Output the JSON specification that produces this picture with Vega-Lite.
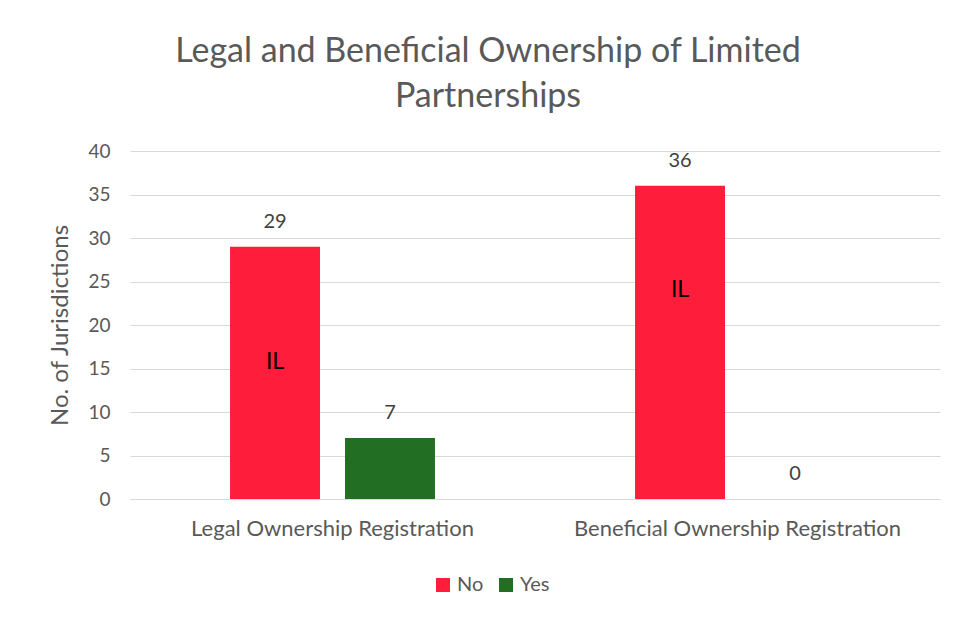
{
  "$schema": "https://vega.github.io/schema/vega-lite/v6.json",
  "width": 810,
  "height": 348,
  "autosize": {"type": "none"},
  "padding": {"left": 130, "top": 151, "right": 19, "bottom": 119},
  "background": "white",
  "config": {
    "font": "Lato",
    "view": {"stroke": null},
    "axis": {"labelFont": "Lato", "titleFont": "Lato", "labelColor": "#595959", "titleColor": "#595959"}
  },
  "title": {
    "text": ["Legal and Beneficial Ownership of Limited", "Partnerships"],
    "fontSize": 34,
    "fontWeight": "normal",
    "color": "#595959",
    "lineHeight": 45,
    "anchor": "middle",
    "dx": -47,
    "offset": 28
  },
  "datasets": {
    "counts": [
      {"group": "Legal Ownership Registration", "answer": "No", "count": 29},
      {"group": "Legal Ownership Registration", "answer": "Yes", "count": 7},
      {"group": "Beneficial Ownership Registration", "answer": "No", "count": 36},
      {"group": "Beneficial Ownership Registration", "answer": "Yes", "count": 0}
    ],
    "notes": [
      {"group": "Legal Ownership Registration", "answer": "No", "label": "IL", "value": 15.75},
      {"group": "Beneficial Ownership Registration", "answer": "No", "label": "IL", "value": 24}
    ]
  },
  "encoding": {
    "x": {
      "field": "group",
      "type": "nominal",
      "sort": ["Legal Ownership Registration", "Beneficial Ownership Registration"],
      "scale": {"paddingInner": 0.494, "paddingOuter": 0.247},
      "axis": {"title": null, "labelAngle": 0, "labelFontSize": 22, "labelLimit": 0, "labelPadding": 19, "ticks": false, "domainColor": "#d9d9d9", "labelColor": "#595959"}
    },
    "xOffset": {
      "field": "answer",
      "type": "nominal",
      "scale": {"domain": ["No", "Yes"], "paddingInner": 0.2174, "paddingOuter": 0}
    }
  },
  "layer": [
    {
      "data": {"name": "counts"},
      "mark": {"type": "bar"},
      "encoding": {
        "y": {
          "field": "count",
          "type": "quantitative",
          "scale": {"domain": [0, 40]},
          "axis": {
            "title": "No. of Jurisdictions",
            "titleFontSize": 24,
            "titleFontWeight": "normal",
            "titlePadding": 15,
            "values": [0, 5, 10, 15, 20, 25, 30, 35, 40],
            "labelFontSize": 19,
            "labelPadding": 20,
            "ticks": false,
            "domain": false,
            "gridColor": "#d9d9d9",
            "gridWidth": 1
          }
        },
        "color": {
          "field": "answer",
          "type": "nominal",
          "scale": {"domain": ["No", "Yes"], "range": ["#fe1e3b", "#226e22"]},
          "legend": {
            "title": null,
            "orient": "none",
            "direction": "horizontal",
            "legendX": 303,
            "legendY": 424,
            "symbolType": "square",
            "symbolSize": 196,
            "symbolStrokeWidth": 0,
            "labelFontSize": 20,
            "labelColor": "#595959",
            "columnPadding": 12,
            "labelOffset": 4
          }
        }
      }
    },
    {
      "data": {"name": "counts"},
      "mark": {"type": "text", "fontSize": 20, "color": "#404040", "baseline": "bottom", "dy": -15},
      "encoding": {
        "y": {"field": "count", "type": "quantitative"},
        "text": {"field": "count", "type": "quantitative"}
      }
    },
    {
      "data": {"name": "notes"},
      "mark": {"type": "text", "fontSize": 23, "color": "#000000", "baseline": "middle"},
      "encoding": {
        "y": {"field": "value", "type": "quantitative"},
        "text": {"field": "label", "type": "nominal"}
      }
    }
  ]
}
